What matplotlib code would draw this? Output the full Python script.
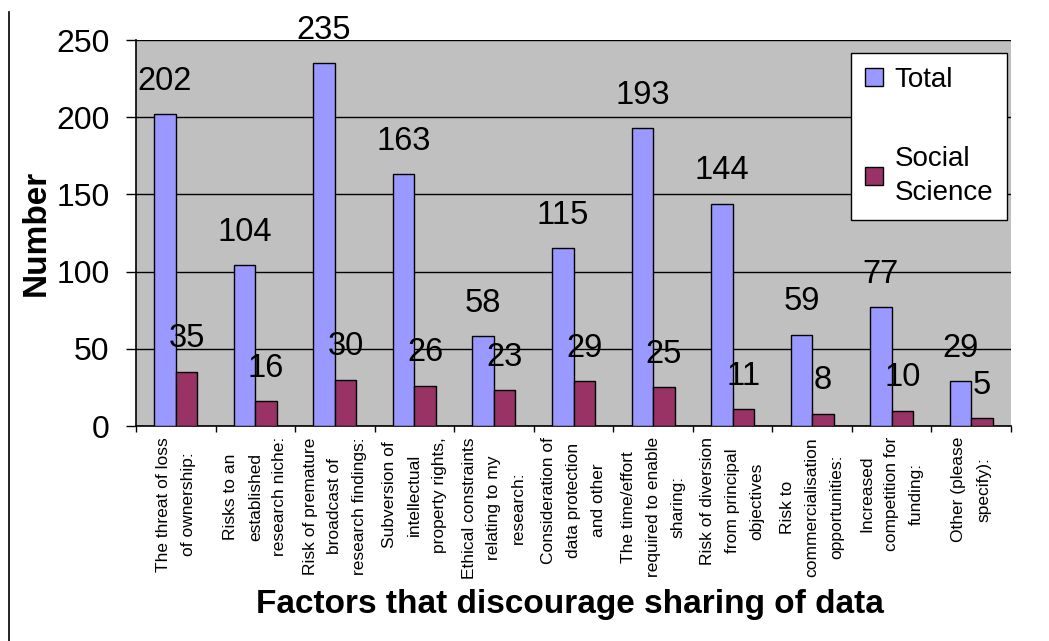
import numpy as np
import matplotlib
matplotlib.use('Agg')
import matplotlib.pyplot as plt
from matplotlib.lines import Line2D

plt.rcParams['font.family'] = ['Liberation Sans', 'DejaVu Sans']

# factors and counts
factors = ['The threat of loss\nof ownership:',
           'Risks to an\nestablished\nresearch niche:',
           'Risk of premature\nbroadcast of\nresearch findings:',
           'Subversion of\nintellectual\nproperty rights,',
           'Ethical constraints\nrelating to my\nresearch:',
           'Consideration of\ndata protection\nand other',
           'The time/effort\nrequired to enable\nsharing:',
           'Risk of diversion\nfrom principal\nobjectives',
           'Risk to\ncommercialisation\nopportunities:',
           'Increased\ncompetition for\nfunding:',
           'Other (please\nspecify):']
total = [202, 104, 235, 163, 58, 115, 193, 144, 59, 77, 29]
social = [35, 16, 30, 26, 23, 29, 25, 11, 8, 10, 5]

fig = plt.figure(figsize=(10.49, 6.41), dpi=100)
ax = fig.add_axes([136/1049, 1-426/641, 875/1049, 386/641])
ax.set_facecolor('#C0C0C0')

x = np.arange(len(factors))
w = 0.27
b1 = ax.bar(x - w/2, total, w, color='#9999FF', edgecolor='black', linewidth=1, label='Total', zorder=3)
b2 = ax.bar(x + w/2, social, w, color='#993366', edgecolor='black', linewidth=1, label='Social\nScience', zorder=3)

# value labels sit well above the bars, Excel style
for bars, vals in [(b1, total), (b2, social)]:
    for r, v in zip(bars, vals):
        ax.annotate(str(v), (r.get_x() + r.get_width()/2, v), xytext=(0, 33),
                    textcoords='offset pixels', ha='center', va='center',
                    fontsize=23.5, zorder=4)

ax.set_ylim(0, 250)
ax.set_xlim(-0.5, len(factors) - 0.5)
ax.set_yticks([0, 50, 100, 150, 200, 250])
ax.tick_params(axis='y', labelsize=23, direction='out', length=7, width=1, pad=12)
ax.yaxis.grid(True, color='black', linewidth=1, zorder=1)
ax.set_axisbelow(True)

ax.set_xticks(x)
ax.set_xticklabels(factors, rotation=90, fontsize=12.5, ha='center', va='top',
                   multialignment='center', linespacing=1.8)
ax.tick_params(axis='x', which='major', length=0, pad=8)
ax.set_xticks(np.arange(len(factors) + 1) - 0.5, minor=True)
ax.tick_params(axis='x', which='minor', length=4, width=1, direction='out')

for s in ['top', 'right']:
    ax.spines[s].set_visible(False)
for s in ['left', 'bottom']:
    ax.spines[s].set_linewidth(1.2)

ax.set_ylabel('Number', fontsize=24, fontweight='bold')
ax.yaxis.label.set_va('center')
ax.yaxis.set_label_coords(-100/875, 0.5)
ax.set_xlabel('Factors that discourage sharing of data', fontsize=24, fontweight='bold')
ax.xaxis.label.set_va('center')
ax.xaxis.set_label_coords(0.496, -(605-426)/386)

leg = ax.legend(loc='upper right', bbox_to_anchor=(871/875, 373/386), borderaxespad=0,
                fontsize=20, fancybox=False, edgecolor='black', framealpha=1,
                handlelength=0.65, handleheight=0.65, handletextpad=0.4,
                labelspacing=1.9, borderpad=0.5)
leg.get_frame().set_linewidth(1)
for t in leg.get_texts():
    t.set_linespacing(1.4)

# left border line of the original page
fig.add_artist(Line2D([9/1049, 9/1049], [0, 1-12/641], color='black', linewidth=1.2))

fig.savefig('out.png', dpi=100)
